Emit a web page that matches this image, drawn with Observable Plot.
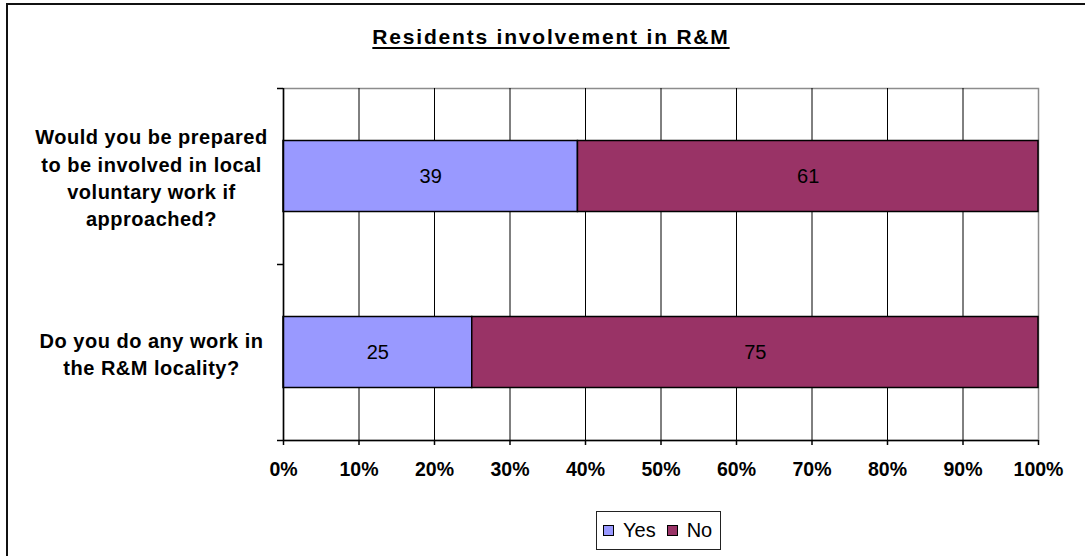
<!DOCTYPE html>
<html>
<head>
<meta charset="utf-8">
<script src="https://cdn.jsdelivr.net/npm/d3@7"></script>
<script src="https://cdn.jsdelivr.net/npm/@observablehq/plot@0.6"></script>
<style>
  html, body { margin: 0; padding: 0; background: #fff; }
  #wrap { position: relative; width: 1085px; height: 556px; overflow: hidden; background: #fff;
          font-family: "Liberation Sans", Arial, sans-serif; }
  #frame { position: absolute; left: 6px; top: 3px; width: 2000px; height: 2000px;
           border-left: 2px solid #111; border-top: 2px solid #111; }
  #title { position: absolute; left: 0; top: 25px; width: 1102px; text-align: center;
           font-size: 21px; line-height: 24px; font-weight: bold; letter-spacing: 1.8px; color: #000;
           text-decoration: underline; text-decoration-thickness: 2px; text-underline-offset: 3px; }
  #chart { position: absolute; left: 0; top: 60px; }
  #legend { position: absolute; left: 596px; top: 511px; width: 125px; height: 39px; box-sizing: border-box;
            border: 1px solid #222; display: flex; align-items: center; font-size: 20px; color: #000; }
  .sw { width: 11px; height: 11px; box-sizing: border-box; border: 1px solid #000; }
</style>
</head>
<body>
<div id="wrap">
  <div id="frame"></div>
  <div id="title"></div>
  <div id="chart"></div>
  <div id="legend"></div>
</div>
<script>
// ---- data ----
const titleText = "Residents involvement in R&M";
const categories = [
  "Do you do any work in the R&M locality?",
  "Would you be prepared to be involved in local voluntary work if approached?"
];
const categoryLabels = [
  "Do you do any work in\nthe R&M locality?",
  "Would you be prepared\nto be involved in local\nvoluntary work if\napproached?"
];
const seriesNames = ["Yes", "No"];
const yesValues = [25, 39];
const noValues = [75, 61];
const seriesColors = ["#9999FF", "#993366"];
const xTicks = [0, 10, 20, 30, 40, 50, 60, 70, 80, 90, 100];
const gridTicks = [10, 20, 30, 40, 50, 60, 70, 80, 90];

// ---- build stacked rows ----
const rows = [];
categories.forEach((c, i) => {
  const vals = [yesValues[i], noValues[i]];
  let acc = 0;
  vals.forEach((v, s) => {
    rows.push({category: c, idx: i, series: seriesNames[s], value: v, x1: acc, x2: acc + v, xm: acc + v / 2});
    acc += v;
  });
});
const bandEdges = d3.range(categories.length + 1);
const bandCenters = categories.map((c, i) => i + 0.5);

document.getElementById("title").textContent = titleText;

const chart = Plot.plot({
  width: 1085,
  height: 425,
  marginTop: 28,
  marginBottom: 45,
  marginLeft: 283,
  marginRight: 47,
  style: {fontFamily: "'Liberation Sans', Arial, sans-serif", background: "transparent", overflow: "visible", color: "#000"},
  x: {domain: [0, 100], axis: null},
  y: {domain: [0, categories.length], axis: null},
  color: {domain: seriesNames, range: seriesColors},
  marks: [
    Plot.frame({stroke: "#8c8c8c", strokeWidth: 1.5}),
    Plot.ruleX(gridTicks, {stroke: "#000", strokeWidth: 1}),
    Plot.rect(rows, {
      x1: "x1", x2: "x2",
      y1: d => d.idx, y2: d => d.idx + 1,
      insetTop: 52.5, insetBottom: 52.5,
      fill: "series", stroke: "#000", strokeWidth: 1.5
    }),
    Plot.text(rows, {x: "xm", y: d => d.idx + 0.5, text: d => String(d.value), fontSize: 20, fill: "#000"}),
    Plot.ruleX([0], {stroke: "#000", strokeWidth: 1.5}),
    Plot.ruleY([0], {stroke: "#000", strokeWidth: 1.5}),
    Plot.axisX({ticks: xTicks, tickSize: 5, tickPadding: 17, tickFormat: d => d + "%",
                fontSize: 19.5, fontWeight: "bold", stroke: "#000", strokeWidth: 1.5, label: null}),
    Plot.axisY({ticks: bandEdges, tickSize: 6, tickFormat: () => "", stroke: "#000", strokeWidth: 1.5, label: null}),
    Plot.axisY({ticks: bandCenters, tickSize: 0, tickPadding: 3, dx: -129, textAnchor: "middle",
                lineHeight: 1.37, fontSize: 20, fontWeight: "bold",
                tickFormat: d => categoryLabels[Math.floor(d)], label: null})
  ]
});
d3.select(chart).selectAll('g[aria-label="y-axis tick label"] text').style("letter-spacing", "0.5px");
document.getElementById("chart").appendChild(chart);

// ---- legend ----
const legend = document.getElementById("legend");
const gaps = [[6, 9], [11, 9]];
seriesNames.forEach((name, i) => {
  const sw = document.createElement("div");
  sw.className = "sw";
  sw.style.background = seriesColors[i];
  sw.style.marginLeft = gaps[i][0] + "px";
  const t = document.createElement("span");
  t.textContent = name;
  t.style.marginLeft = gaps[i][1] + "px";
  legend.appendChild(sw);
  legend.appendChild(t);
});
</script>
</body>
</html>
